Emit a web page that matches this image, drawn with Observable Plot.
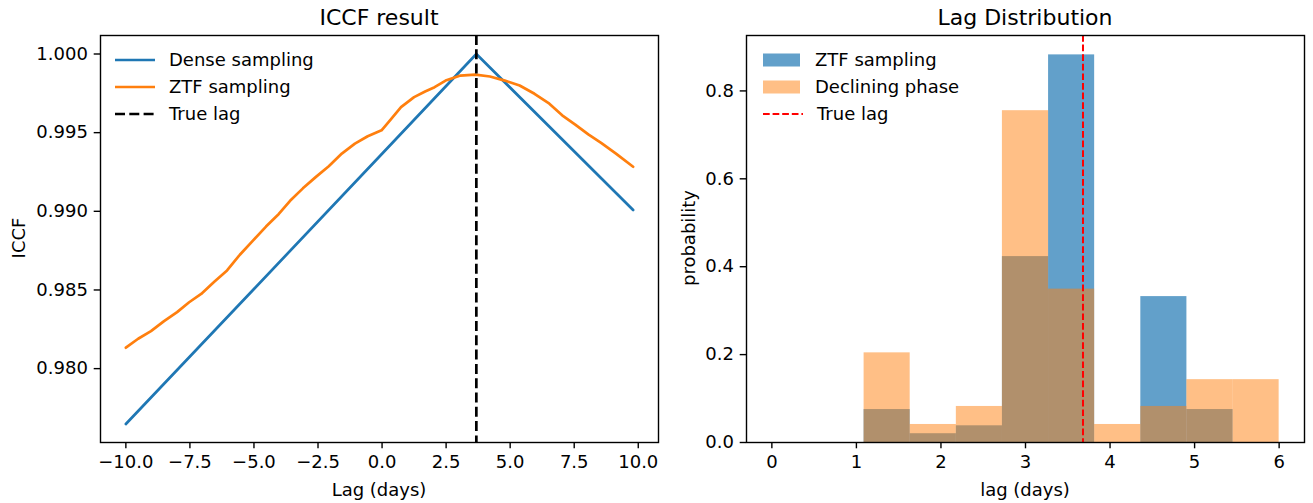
<!DOCTYPE html>
<html>
<head>
<meta charset="utf-8">
<script src="https://cdn.jsdelivr.net/npm/d3@7"></script>
<script src="https://cdn.jsdelivr.net/npm/@observablehq/plot@0.6"></script>
<style>
  html, body { margin: 0; padding: 0; background: white; }
  #fig { position: relative; width: 1313px; height: 503px; background: white; font-family: "DejaVu Sans", sans-serif; color: black; overflow: hidden; }
  #fig svg { position: absolute; top: 0; }
  .t { position: absolute; white-space: nowrap; line-height: 1; }
</style>
</head>
<body>
<div id="fig"></div>
<script>
// ---------- Left panel data: ICCF result ----------
const denseLag  = [-10, -5, 0, 3.68, 9.8];
const denseICCF = [0.97648, 0.98506, 0.99366, 1.0000, 0.99008];

const ztfLag  = [-10, -9.52, -9.02, -8.51, -8.0, -7.53, -7.06, -6.56, -6.05, -5.55, -5.04, -4.53, -4.03, -3.59, -3.09, -2.58, -2.08, -1.57, -1.06, -0.56, -0.02, 0.31, 0.74, 1.25, 1.68, 2.05, 2.48, 3.06, 3.64, 4.21, 4.79, 5.37, 5.95, 6.53, 7.03, 7.54, 8.05, 8.55, 9.13, 9.8];
const ztfICCF = [0.98133, 0.9819, 0.98238, 0.98302, 0.98359, 0.98422, 0.98475, 0.98551, 0.98624, 0.98724, 0.98814, 0.98903, 0.98983, 0.99067, 0.99146, 0.99219, 0.99287, 0.99367, 0.9943, 0.99477, 0.99515, 0.99578, 0.99662, 0.99726, 0.99762, 0.99789, 0.99831, 0.99863, 0.99869, 0.99857, 0.99831, 0.998, 0.99747, 0.99684, 0.9961, 0.99551, 0.99489, 0.99435, 0.99367, 0.99283];

const trueLag = 3.68;

const leftXTicks = [-10, -7.5, -5, -2.5, 0, 2.5, 5, 7.5, 10];
const leftYTicks = [0.980, 0.985, 0.990, 0.995, 1.000];

// ---------- Right panel data: Lag Distribution (density histograms) ----------
const binEdges = [0, 0.545, 1.091, 1.636, 2.182, 2.727, 3.273, 3.818, 4.364, 4.909, 5.455, 6.0];
const ztfProb       = [0, 0, 0.075, 0.020, 0.038, 0.423, 0.882, 0, 0.332, 0.075, 0];
const decliningProb = [0, 0, 0.204, 0.041, 0.082, 0.755, 0.349, 0.041, 0.082, 0.143, 0.143];

const rightXTicks = [0, 1, 2, 3, 4, 5, 6];
const rightYTicks = [0, 0.2, 0.4, 0.6, 0.8];

// ---------- Build tables ----------
const denseData = denseLag.map((x, i) => ({x, y: denseICCF[i]}));
const ztfData = ztfLag.map((x, i) => ({x, y: ztfICCF[i]}));
const binsZ = ztfProb.map((p, i) => ({x1: binEdges[i], x2: binEdges[i + 1], y: p}));
const binsD = decliningProb.map((p, i) => ({x1: binEdges[i], x2: binEdges[i + 1], y: p}));

const C0 = "#1f77b4", C1 = "#ff7f0e";
const fig = document.getElementById("fig");

function pad(lo, hi) { const r = hi - lo; return [lo - r * 0.05, hi + r * 0.05]; }

const leftX = pad(d3.min(denseLag.concat(ztfLag)), d3.max(denseLag.concat(ztfLag)));
const leftY = pad(d3.min(denseICCF.concat(ztfICCF)), d3.max(denseICCF.concat(ztfICCF)));

const FS = 18;
const style = {fontFamily: "DejaVu Sans, sans-serif", fontSize: FS + "px", background: "transparent", color: "black", overflow: "visible"};
const TK = 6.3, TP = 6.3, SW = 1.4, LW = 2.7;
const blackDash = "10,4.3";
const redDash = "6.7,2.9";

const left = Plot.plot({
  width: 680, height: 503,
  marginLeft: 100, marginRight: 22, marginTop: 35, marginBottom: 61,
  style,
  x: {domain: leftX},
  y: {domain: leftY},
  marks: [
    Plot.line(denseData, {x: "x", y: "y", stroke: C0, strokeWidth: LW}),
    Plot.line(ztfData, {x: "x", y: "y", stroke: C1, strokeWidth: LW}),
    Plot.ruleX([trueLag], {stroke: "black", strokeWidth: LW, strokeDasharray: blackDash}),
    Plot.axisX({ticks: leftXTicks, tickFormat: d3.format(".1f"), tickSize: TK, tickPadding: TP, label: null, strokeWidth: SW}),
    Plot.axisY({ticks: leftYTicks, tickFormat: d3.format(".3f"), tickSize: TK, tickPadding: TP, label: null, strokeWidth: SW}),
    Plot.frame({stroke: "black", strokeWidth: SW})
  ]
});
left.style.left = "0px";
fig.appendChild(left);

const right = Plot.plot({
  width: 633, height: 503,
  marginLeft: 66, marginRight: 9, marginTop: 35, marginBottom: 61,
  style,
  x: {domain: [-0.3, 6.3]},
  y: {domain: [0, d3.max(ztfProb.concat(decliningProb)) * 1.05]},
  marks: [
    Plot.rectY(binsZ, {x1: "x1", x2: "x2", y: "y", fill: C0, fillOpacity: 0.7}),
    Plot.rectY(binsD, {x1: "x1", x2: "x2", y: "y", fill: C1, fillOpacity: 0.5}),
    Plot.ruleX([trueLag], {stroke: "red", strokeWidth: 2, strokeDasharray: redDash}),
    Plot.axisX({ticks: rightXTicks, tickFormat: d3.format("d"), tickSize: TK, tickPadding: TP, label: null, strokeWidth: SW}),
    Plot.axisY({ticks: rightYTicks, tickFormat: d3.format(".1f"), tickSize: TK, tickPadding: TP, label: null, strokeWidth: SW}),
    Plot.frame({stroke: "black", strokeWidth: SW})
  ]
});
right.style.left = "680px";
fig.appendChild(right);

// ---------- Text (titles, axis labels) ----------
function txt(s, x, y, size, rot) {
  const d = document.createElement("div");
  d.className = "t";
  d.textContent = s;
  d.style.left = x + "px";
  d.style.top = y + "px";
  d.style.fontSize = size + "px";
  d.style.transform = "translate(-50%,-50%)" + (rot ? " rotate(-90deg)" : "");
  fig.appendChild(d);
  return d;
}
txt("ICCF result", 379, 18, 22);
txt("Lag Distribution", 1025, 18, 22);
txt("Lag (days)", 379, 490, FS);
txt("lag (days)", 1025, 490, FS);
txt("ICCF", 19, 238, FS, true);
txt("probability", 689, 238, FS, true);

// ---------- Legends ----------
function legendRow(x, y, kind, color, label) {
  const row = document.createElement("div");
  row.className = "t";
  row.style.left = x + "px";
  row.style.top = (y - 9) + "px";
  row.style.height = "18px";
  row.style.display = "flex";
  row.style.alignItems = "center";
  row.style.fontSize = FS + "px";
  const ns = "http://www.w3.org/2000/svg";
  const sw = document.createElementNS(ns, "svg");
  sw.setAttribute("width", "40"); sw.setAttribute("height", "18");
  sw.style.position = "static";
  let el;
  if (kind === "rect") {
    el = document.createElementNS(ns, "rect");
    el.setAttribute("x", "0"); el.setAttribute("y", "2.5"); el.setAttribute("width", "37"); el.setAttribute("height", "13");
    el.setAttribute("fill", color.c); el.setAttribute("fill-opacity", color.o);
  } else {
    el = document.createElementNS(ns, "line");
    el.setAttribute("x1", "0"); el.setAttribute("x2", "40"); el.setAttribute("y1", "9"); el.setAttribute("y2", "9");
    el.setAttribute("stroke", color.c); el.setAttribute("stroke-width", color.w);
    if (color.dash) el.setAttribute("stroke-dasharray", color.dash);
  }
  sw.appendChild(el);
  row.appendChild(sw);
  const sp = document.createElement("span");
  sp.textContent = label;
  sp.style.marginLeft = kind === "rect" ? "12px" : "14px";
  row.appendChild(sp);
  fig.appendChild(row);
}
legendRow(115, 60, "line", {c: C0, w: LW}, "Dense sampling");
legendRow(115, 87, "line", {c: C1, w: LW}, "ZTF sampling");
legendRow(115, 114, "line", {c: "black", w: LW, dash: blackDash}, "True lag");
legendRow(763, 60, "rect", {c: C0, o: 0.7}, "ZTF sampling");
legendRow(763, 87, "rect", {c: C1, o: 0.5}, "Declining phase");
legendRow(763, 114, "line", {c: "red", w: 2, dash: redDash}, "True lag");
</script>
</body>
</html>
